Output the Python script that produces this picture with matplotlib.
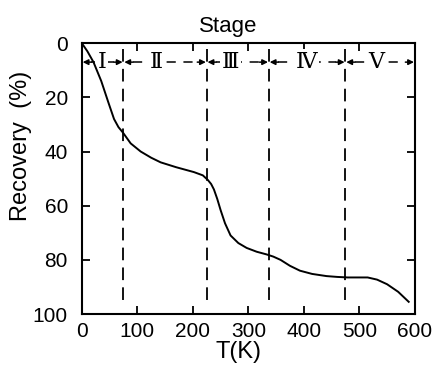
import matplotlib
matplotlib.use("Agg")
import matplotlib.pyplot as plt

# curve
temp = [0, 10, 21, 35, 48, 58, 66, 74, 88, 106, 125, 142, 170, 202, 218, 227, 233, 238, 244,
        250, 258, 268, 282, 297, 315, 333, 345, 358, 375, 393, 415, 441, 460, 479, 500, 515,
        532, 550, 570, 589]
recovery = [0, 3, 7, 14, 22, 28, 31, 33, 37, 40, 42.3, 44, 45.8, 47.6, 48.8, 50.5, 52, 54, 57.5,
            61.6, 66.5, 71, 73.8, 75.6, 77, 78, 78.8, 80, 82.2, 84, 85.2, 86, 86.3, 86.5, 86.5,
            86.5, 87.3, 89, 91.8, 95.5]

boundaries = [75, 225, 337, 475]
edges = [0] + boundaries + [600]
stage_labels = ["\u2160", "\u2161", "\u2162", "\u2163", "\u2164"]
label_x = [36, 135, 268, 405, 531]
arrow_y = 7

plt.rcParams['font.family'] = ['Liberation Sans', 'DejaVu Sans']

fig = plt.figure(figsize=(4.33, 3.69), dpi=100)
ax = fig.add_axes([0.189, 0.149, 0.769, 0.734])

ax.plot(temp, recovery, color="black", lw=1.4, solid_joinstyle="round", zorder=6)

for b in boundaries:
    ax.plot([b, b], [2, 97], color="black", lw=1.3, dashes=(7, 4))

# stage row: dashed segments with arrows pointing at each boundary
for i, lab in enumerate(stage_labels):
    lo, hi = edges[i], edges[i + 1]
    ax.text(label_x[i], arrow_y, lab, family=["DejaVu Serif", "DejaVu Sans"], fontsize=16,
            ha="center", va="center", bbox=dict(fc="white", ec="none", pad=1.5), zorder=4)
    ax.annotate("", xy=(lo + 1.5, arrow_y), xytext=(lo + 17, arrow_y),
                arrowprops=dict(arrowstyle="-|>", color="black", lw=1.1, mutation_scale=8,
                                shrinkA=0, shrinkB=0), zorder=3)
    ax.annotate("", xy=(hi - 1.5, arrow_y), xytext=(hi - 17, arrow_y),
                arrowprops=dict(arrowstyle="-|>", color="black", lw=1.1, mutation_scale=8,
                                shrinkA=0, shrinkB=0), zorder=3)
    ax.plot([lo + 17, hi - 17], [arrow_y, arrow_y], color="black", lw=1.1, dashes=(6, 5), zorder=2)

ax.set_xlim(0, 600)
ax.set_ylim(100, 0)
ax.set_xticks(range(0, 601, 100))
ax.set_yticks(range(0, 101, 20))
ax.tick_params(direction="in", length=6, width=1.3, top=True, right=True, labelsize=15)
ax.tick_params(axis="y", pad=10)
ax.tick_params(axis="x", pad=6)
for s in ax.spines.values():
    s.set_linewidth(1.5)

ax.set_xlabel("T(K)", fontsize=17, labelpad=0)
ax.xaxis.set_label_coords(0.47, -0.1, transform=ax.transAxes)
ax.xaxis.label.set_va("top")
ax.set_ylabel("Recovery  (%)", fontsize=17)
ax.yaxis.set_label_coords(-0.15, 0.62)
ax.set_title("Stage", fontsize=16, pad=8, x=0.44)

fig.savefig("out.png", dpi=100)
